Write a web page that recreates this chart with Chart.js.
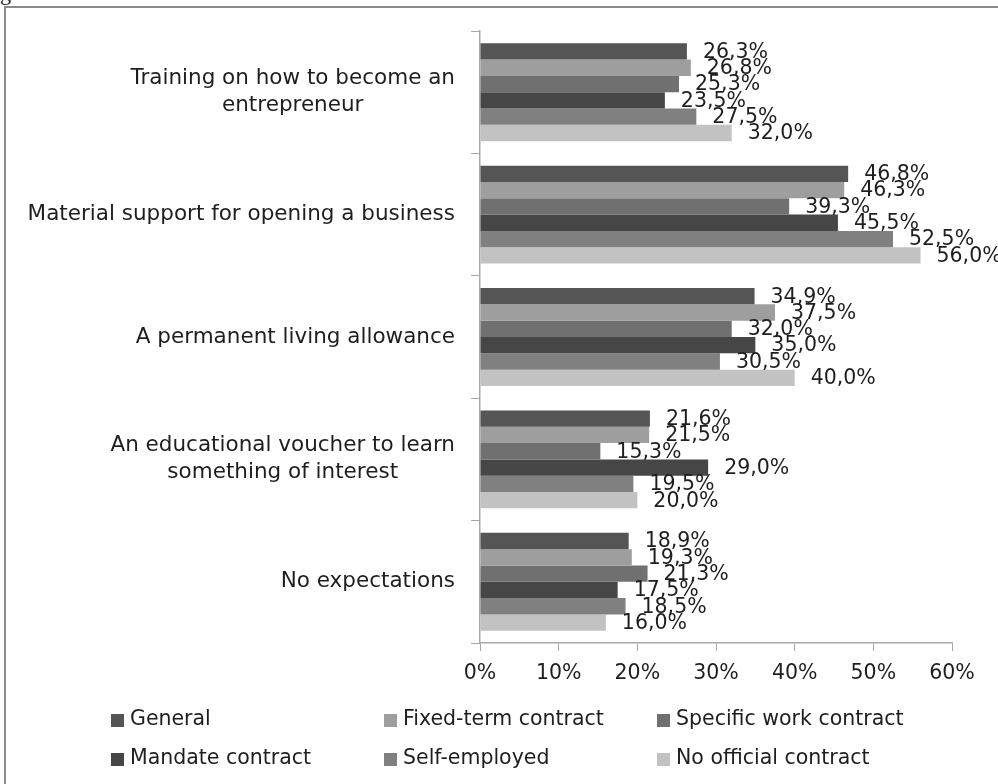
<!DOCTYPE html>
<html>
<head>
<meta charset="utf-8">
<script src="https://cdn.jsdelivr.net/npm/chart.js@4"></script>
<style>
  html, body { margin: 0; padding: 0; background: #fff; overflow: hidden; }
  #wrap { position: relative; width: 998px; height: 784px; overflow: hidden; }
  #frame { position: absolute; left: 4px; top: 6px; width: 1100px; height: 900px; border: 2px solid #8a8a8a; }
  #cut { position: absolute; left: 0; top: -20px; font: 22px/1.15 "Liberation Serif"; color: #222; white-space: nowrap; }
  canvas { position: absolute; left: 0; top: 0; }
</style>
</head>
<body>
<div id="wrap">
  <div id="cut">gender criteria</div>
  <div id="frame"></div>
  <canvas id="chart" width="998" height="784"></canvas>
</div>
<script>
// categories and series (percent)
const categories = [
    ['Training on how to become an', 'entrepreneur'],
    ['Material support for opening a business'],
    ['A permanent living allowance'],
    ['An educational voucher to learn', 'something of interest'],
    ['No expectations']
];
const seriesNames = ['General', 'Fixed-term contract', 'Specific work contract', 'Mandate contract', 'Self-employed', 'No official contract'];
const general = [26.3, 46.8, 34.9, 21.6, 18.9];
const fixedTerm = [26.8, 46.3, 37.5, 21.5, 19.3];
const specificWork = [25.3, 39.3, 32.0, 15.3, 21.3];
const mandate = [23.5, 45.5, 35.0, 29.0, 17.5];
const selfEmployed = [27.5, 52.5, 30.5, 19.5, 18.5];
const noContract = [32.0, 56.0, 40.0, 20.0, 16.0];
const xTicks = [0, 10, 20, 30, 40, 50, 60];

const colors = ['#555555', '#9e9e9e', '#707070', '#464646', '#808080', '#c2c2c2'];
const allValues = [general, fixedTerm, specificWork, mandate, selfEmployed, noContract];
const FONT = 'DejaVu Sans';
const TEXT = '#1e1e1e';

// category labels: block right-aligned, lines centred to each other
const categoryLabels = {
    id: 'categoryLabels',
    afterDraw(chart) {
        const ctx = chart.ctx;
        const y = chart.scales.y;
        ctx.save();
        ctx.font = '21.5px "' + FONT + '"';
        ctx.fillStyle = TEXT;
        ctx.textAlign = 'center';
        ctx.textBaseline = 'middle';
        const right = y.right - 25;
        categories.forEach((lines, i) => {
            const cy = y.getPixelForValue(i);
            const w = Math.max(...lines.map(l => ctx.measureText(l).width));
            const lh = 27;
            lines.forEach((l, j) => {
                ctx.fillText(l, right - w / 2, cy + (j - (lines.length - 1) / 2) * lh);
            });
        });
        ctx.restore();
    }
};

// value labels at the end of each bar
const valueLabels = {
    id: 'valueLabels',
    afterDatasetsDraw(chart) {
        const ctx = chart.ctx;
        ctx.save();
        ctx.font = '20.5px "' + FONT + '"';
        ctx.fillStyle = TEXT;
        ctx.textAlign = 'left';
        ctx.textBaseline = 'middle';
        chart.data.datasets.forEach((ds, di) => {
            chart.getDatasetMeta(di).data.forEach((bar, i) => {
                const txt = ds.data[i].toFixed(1).replace('.', ',') + '%';
                ctx.fillText(txt, bar.x + 16, bar.y + 1);
            });
        });
        ctx.restore();
    }
};

// legend in two rows of three columns
const gridLegend = {
    id: 'gridLegend',
    afterDraw(chart) {
        const ctx = chart.ctx;
        const colX = [111, 384, 657];
        const rowY = [720, 759];
        ctx.save();
        ctx.font = '20.5px "' + FONT + '"';
        ctx.textBaseline = 'middle';
        ctx.textAlign = 'left';
        chart.data.datasets.forEach((ds, i) => {
            const x = colX[i % 3];
            const y = rowY[Math.floor(i / 3)];
            ctx.fillStyle = ds.backgroundColor;
            ctx.fillRect(x, y - 6, 13, 13);
            ctx.fillStyle = TEXT;
            ctx.fillText(ds.label, x + 19, y);
        });
        ctx.restore();
    }
};

new Chart(document.getElementById('chart'), {
    type: 'bar',
    data: {
        labels: categories.map(c => c.join(' ')),
        datasets: seriesNames.map((name, i) => ({
            label: name,
            data: allValues[i],
            backgroundColor: colors[i],
            borderWidth: 0,
            categoryPercentage: 0.8,
            barPercentage: 1.0
        }))
    },
    options: {
        indexAxis: 'y',
        responsive: false,
        animation: false,
        devicePixelRatio: 1,
        layout: { padding: { left: 0, right: 46, top: 31, bottom: 81 } },
        plugins: {
            legend: { display: false },
            tooltip: { enabled: false }
        },
        scales: {
            x: {
                min: 0,
                max: 60,
                afterBuildTicks: s => { s.ticks = xTicks.map(v => ({ value: v })); },
                afterFit: s => { s.height = 60; },
                grid: { drawOnChartArea: false, drawTicks: true, tickLength: 8, color: '#a8a8a8', lineWidth: 1 },
                border: { color: '#a8a8a8', width: 1.5 },
                ticks: {
                    padding: 10,
                    color: TEXT,
                    font: { family: FONT, size: 20.5 },
                    maxRotation: 0,
                    callback: v => v + '%'
                }
            },
            y: {
                afterFit: s => { s.width = 480; },
                grid: { drawOnChartArea: false, drawTicks: true, tickLength: 9, color: '#a8a8a8', offset: true },
                border: { color: '#a8a8a8', width: 1.5 },
                ticks: { display: false }
            }
        }
    },
    plugins: [categoryLabels, valueLabels, gridLegend]
});
</script>
</body>
</html>
